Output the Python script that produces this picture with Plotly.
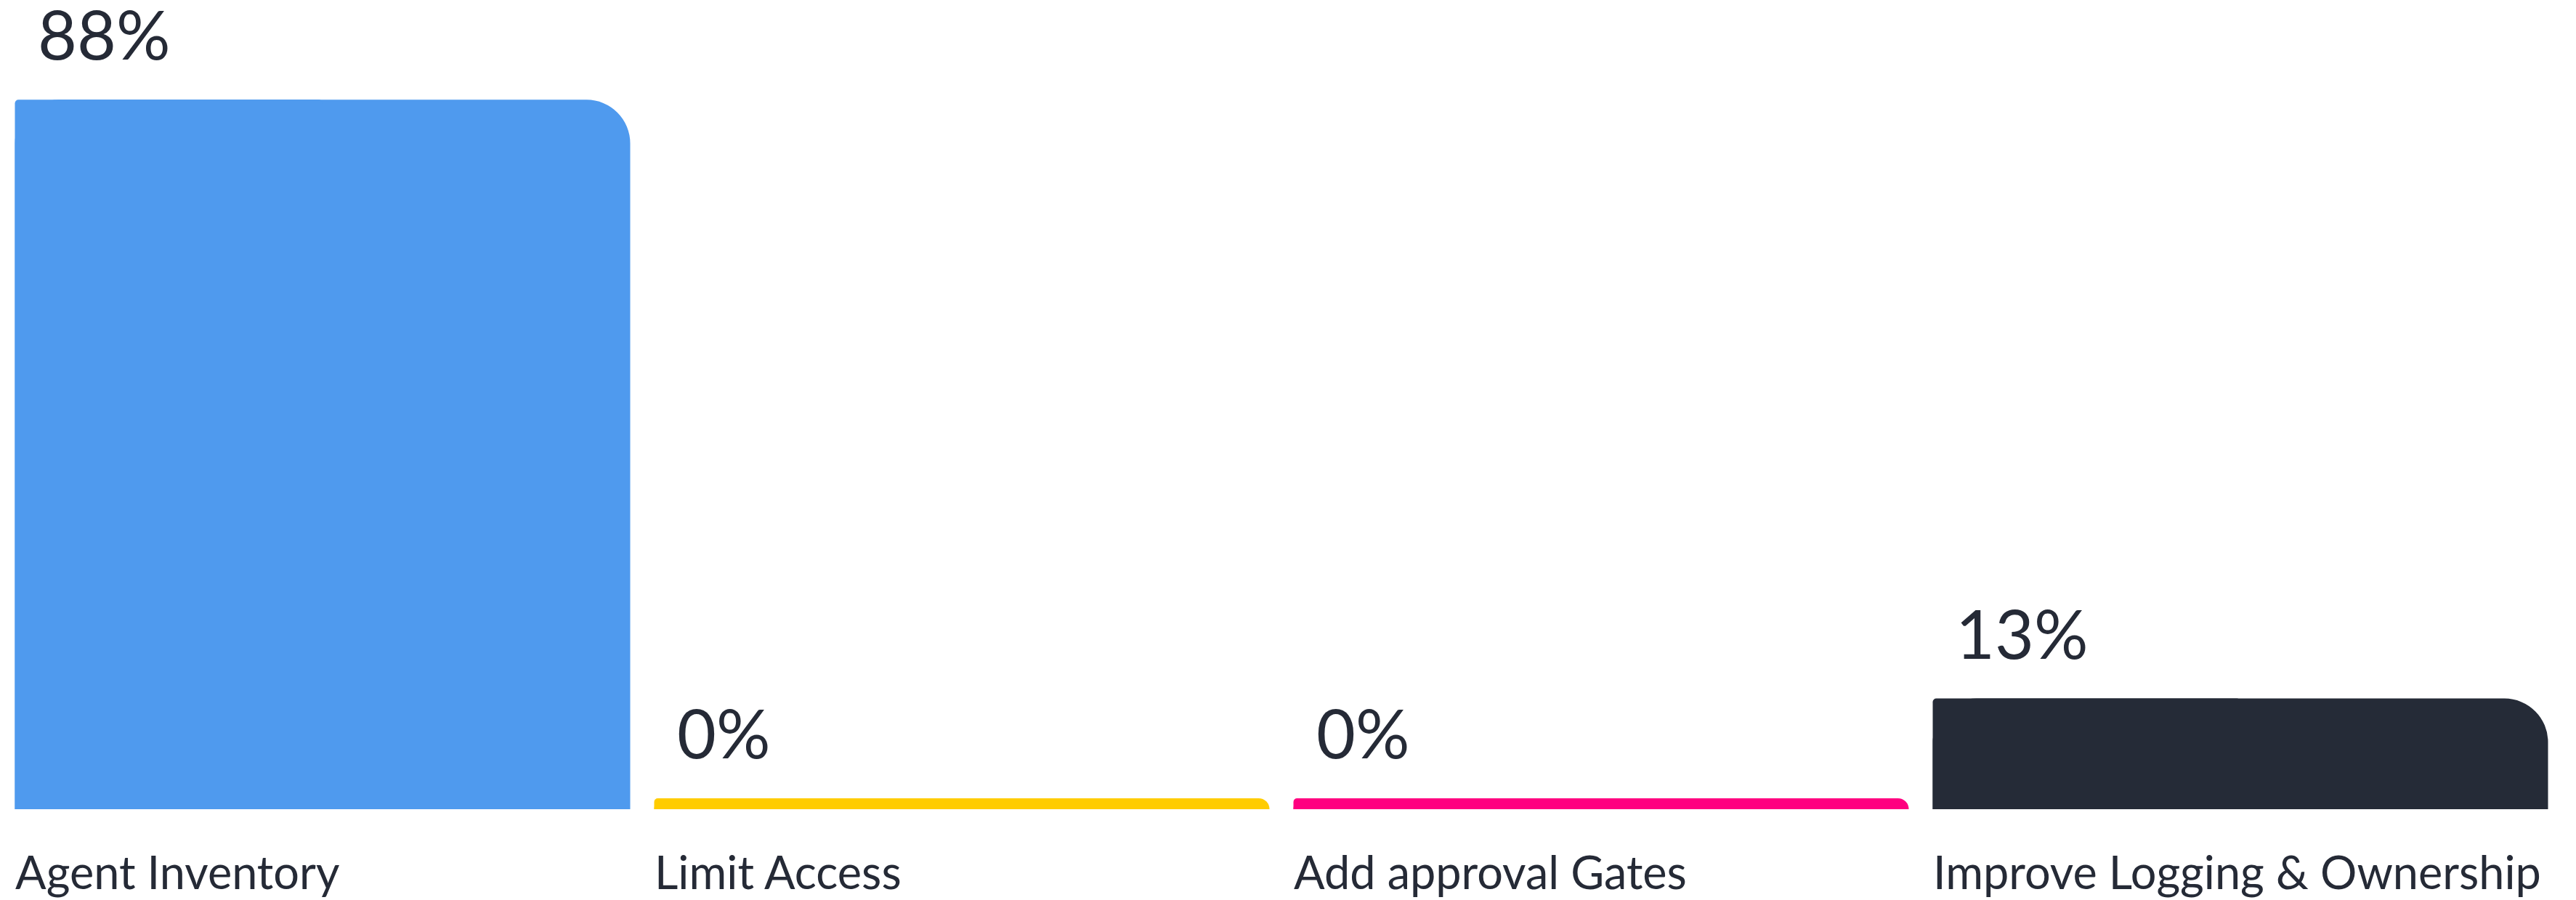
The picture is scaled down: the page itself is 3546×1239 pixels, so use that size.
import plotly.graph_objects as go

# ---- data ----
categories = ["Agent Inventory", "Limit Access", "Add approval Gates", "Improve Logging & Ownership"]
values = [87.5, 0, 0, 12.5]
value_labels = ["88%", "0%", "0%", "13%"]
colors = ["#4F9AEE", "#FFCC00", "#FF0080", "#252B37"]

TEXT = "#252A36"
FONT = "Lato"
MIN_BAR = 1.37   # minimum visible bar thickness (data units)
W = 0.9625       # bar width (category units)

x = list(range(len(categories)))
heights = [v + MIN_BAR for v in values]   # bars start at axis floor

fig = go.Figure()
# full-width bar with large rounded top-right corner
fig.add_trace(go.Bar(
    x=x, y=heights, width=W,
    marker=dict(color=colors, cornerradius=60, line=dict(width=0)),
    hoverinfo="skip", showlegend=False,
))
# left half with a small corner radius (keeps top-left corner nearly square)
fig.add_trace(go.Bar(
    x=x, y=heights, width=W / 2, offset=-W / 2,
    marker=dict(color=colors, cornerradius=5, line=dict(width=0)),
    hoverinfo="skip", showlegend=False,
))

annotations = []
for i, (cat, h, lab) in enumerate(zip(categories, heights, value_labels)):
    annotations.append(dict(
        x=i - W / 2, xref="x", y=h, yref="y",
        text=lab, showarrow=False, xanchor="left", yanchor="bottom",
        height=98, valign="bottom",
        xshift=29, yshift=33,
        font=dict(family=FONT, size=93, color=TEXT),
    ))
    annotations.append(dict(
        x=i - W / 2, xref="x", y=0, yref="paper",
        text=cat, showarrow=False, xanchor="left", yanchor="top",
        xshift=-2, yshift=-46,
        font=dict(family=FONT, size=63, color=TEXT),
    ))

fig.update_layout(
    width=3546, height=1239,
    margin=dict(l=4, r=22, t=0, b=125),
    barmode="overlay",
    plot_bgcolor="white", paper_bgcolor="white",
    xaxis=dict(range=[-0.5, 3.5], visible=False, fixedrange=True),
    yaxis=dict(range=[0, 100 + MIN_BAR], visible=False, fixedrange=True),
    annotations=annotations,
    showlegend=False,
)

fig.write_html("out.html", config={"displayModeBar": False})
